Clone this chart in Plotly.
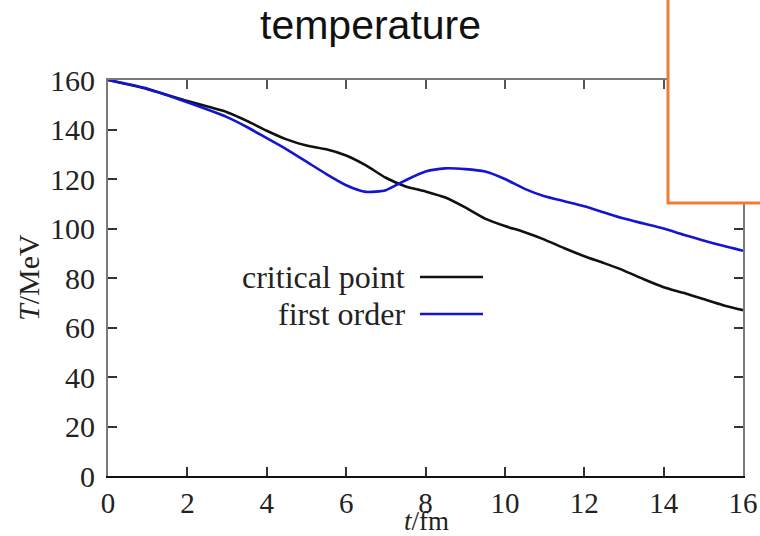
import plotly.graph_objects as go

t_fm = [0, 1, 2, 3, 3.5, 4, 4.5, 5, 5.5, 6, 6.5, 7, 7.5, 8, 8.5, 9, 9.5, 10,
        10.5, 11, 11.5, 12, 12.5, 13, 13.5, 14, 14.5, 15, 15.5, 16]
critical_point = [160, 156.3, 151.5, 147, 143.5, 139.5, 136, 133.5, 132, 129.5,
                  125.5, 120.5, 117, 115, 112.5, 108.5, 104, 101, 98.5, 95.5,
                  92, 88.8, 86, 83, 79.5, 76.3, 74, 71.5, 69, 67]
first_order = [160, 156.5, 151, 145, 141, 136.5, 132, 127, 122, 117.5,
               114.8, 115.5, 119.5, 123, 124.3, 124, 123, 120, 116, 113,
               111, 109, 106.5, 104, 102, 100, 97.5, 95.2, 93, 91]
series_names = ["critical point", "first order"]
series_colors = ["#111111", "#1414d2"]
x_ticks = [0, 2, 4, 6, 8, 10, 12, 14, 16]
y_ticks = [0, 20, 40, 60, 80, 100, 120, 140, 160]

SERIF = "Liberation Serif, Times New Roman, serif"
W, H = 760, 536
ML, MR, MT, MB = 108, 17, 80, 60
PW, PH = W - ML - MR, H - MT - MB

def px_x(p):
    return (p - ML) / PW

def px_y(p):
    return (H - MB - p) / PH

fig = go.Figure()
for name, ys, col in zip(series_names, [critical_point, first_order], series_colors):
    fig.add_trace(go.Scatter(x=t_fm, y=ys, mode="lines", name=name,
                             line=dict(color=col, width=2.6, shape="spline", smoothing=0.6),
                             showlegend=False))
# dummy trace for top frame axis
fig.add_trace(go.Scatter(x=[None], y=[None], xaxis="x2", showlegend=False, hoverinfo="skip"))

fig.update_layout(
    width=W, height=H,
    margin=dict(l=ML, r=MR, t=MT, b=MB, autoexpand=False),
    paper_bgcolor="white", plot_bgcolor="white",
    showlegend=False,
    xaxis=dict(range=[0, 16], tickvals=x_ticks, ticks="inside", ticklen=9, tickwidth=1.5,
               tickcolor="#333", showline=True, linecolor="#111", linewidth=2,
               showgrid=False, zeroline=False, automargin=False,
               tickfont=dict(family=SERIF, size=29, color="#222"), ticklabelstandoff=0),
    xaxis2=dict(range=[0, 16], overlaying="x", side="top", tickvals=x_ticks, ticks="inside",
                ticklen=9, tickwidth=1.5, tickcolor="#555", showline=True, linecolor="#7a7a7a",
                linewidth=2, showgrid=False, zeroline=False, showticklabels=False,
                automargin=False),
    yaxis=dict(range=[0, 160], tickvals=y_ticks, ticks="inside", ticklen=9, tickwidth=1.5,
               tickcolor="#333", showline=True, linecolor="#7a7a7a", linewidth=2,
               mirror="ticks", showgrid=False, zeroline=False, automargin=False,
               tickfont=dict(family=SERIF, size=30, color="#222"), ticklabelstandoff=5),
)

# title
fig.add_annotation(text="temperature", xref="paper", yref="paper",
                   x=px_x(370.5), y=px_y(25), xanchor="center", yanchor="middle",
                   showarrow=False, font=dict(family="Liberation Sans, Arial, sans-serif",
                                              size=41, color="#111"))
# axis titles
fig.add_annotation(text="<i>T</i>/MeV", xref="paper", yref="paper", x=px_x(28), y=px_y(278),
                   textangle=-90, xanchor="center", yanchor="middle", showarrow=False,
                   font=dict(family=SERIF, size=30, color="#222"))
fig.add_annotation(text="<i>t</i>/fm", xref="paper", yref="paper", x=px_x(427), y=px_y(538),
                   xanchor="center", yanchor="bottom", showarrow=False,
                   font=dict(family=SERIF, size=27, color="#222"))

# legend (text right, line sample to the right)
for i, (name, col) in enumerate(zip(series_names, series_colors)):
    yy = px_y(277 + 37 * i)
    fig.add_annotation(text=name, xref="paper", yref="paper", x=px_x(407), y=yy,
                       xanchor="right", yanchor="middle", showarrow=False,
                       font=dict(family=SERIF, size=32, color="#222"))
    fig.add_shape(type="line", xref="paper", yref="paper", x0=px_x(420), x1=px_x(483),
                  y0=yy, y1=yy, line=dict(color=col, width=2.6))

# orange overlay box
fig.add_shape(type="rect", xref="paper", yref="paper", x0=px_x(668), x1=px_x(775),
              y0=px_y(203), y1=px_y(-20), fillcolor="white",
              line=dict(color="#ED7D31", width=3), layer="above")

fig.write_html("out.html")
